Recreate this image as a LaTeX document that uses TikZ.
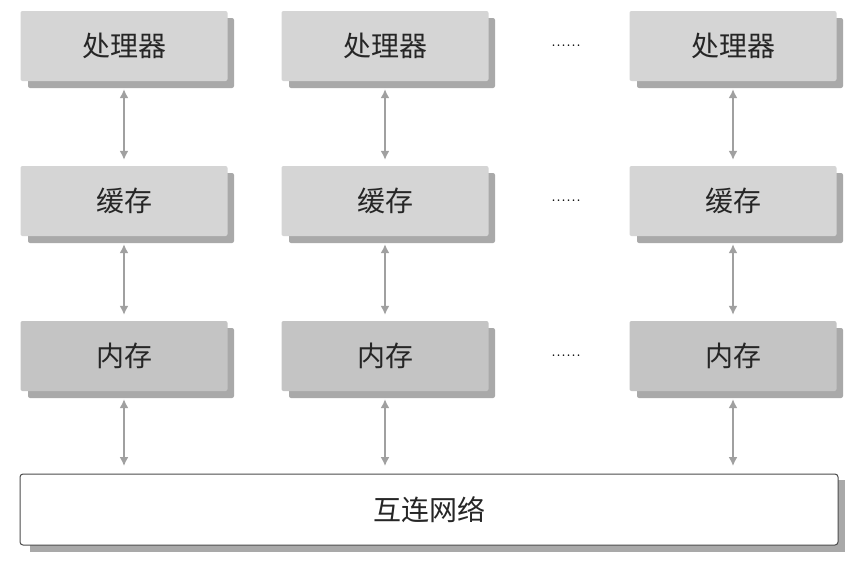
\documentclass[tikz,border=0pt]{standalone}
\usepackage{fontspec}
\newfontfamily\cjk{Noto Sans CJK SC}
\usetikzlibrary{arrows.meta}
\definecolor{boxA}{HTML}{D5D5D5}
\definecolor{boxB}{HTML}{C4C4C4}
\definecolor{shad}{HTML}{A9A9A9}
\definecolor{arr}{HTML}{A0A0A0}
\tikzset{
 x=1pt,y=-1pt,
 box/.style={fill=#1,minimum width=207pt,minimum height=70pt,inner sep=0pt,font=\cjk\fontsize{28}{30}\selectfont,text=black!85,rounded corners=2pt},
 shadow/.style={fill=shad,rounded corners=2pt},
 link/.style={draw=arr,line width=1.6pt,{Latex[length=9pt,width=9pt]}-{Latex[length=9pt,width=9pt]}},
 dots/.style={font=\fontsize{20}{20}\selectfont}
}
\begin{document}
\begin{tikzpicture}
\useasboundingbox (0,0) rectangle (864,568);
\fill[white] (0,0) rectangle (864,568);
\foreach \x/\c in {124/1,385/2,733/3}{
 \foreach \y/\r/\t/\f in {46/1/处理器/boxA,201/2/缓存/boxA,356/3/内存/boxB}{
  \fill[shad,rounded corners=2pt] (\x-96,\y-28) rectangle (\x+110,\y+42);
  \node[box=\f] (n\r\c) at (\x,\y) {\t};
 }
 \coordinate (b\c) at (\x,466);
}
\fill[shad] (30,480) rectangle (845,552);
\node[draw=black!70,fill=white,line width=1pt,rounded corners=3pt,minimum width=818pt,minimum height=71pt,inner sep=0pt,font=\cjk\fontsize{28}{30}\selectfont,text=black!85] (net) at (429,509.5) {互连网络};
\foreach \c in {1,2,3}{
 \draw[link] ([yshift=-8pt]n1\c.south) -- ([yshift=6pt]n2\c.north);
 \draw[link] ([yshift=-8pt]n2\c.south) -- ([yshift=6pt]n3\c.north);
 \draw[link] ([yshift=-8pt]n3\c.south) -- (b\c);
}
\foreach \y/\r in {46/1,201/2,356/3}{
 \node[dots] (d\r) at (566,\y) {......};
}
\end{tikzpicture}
\end{document}
